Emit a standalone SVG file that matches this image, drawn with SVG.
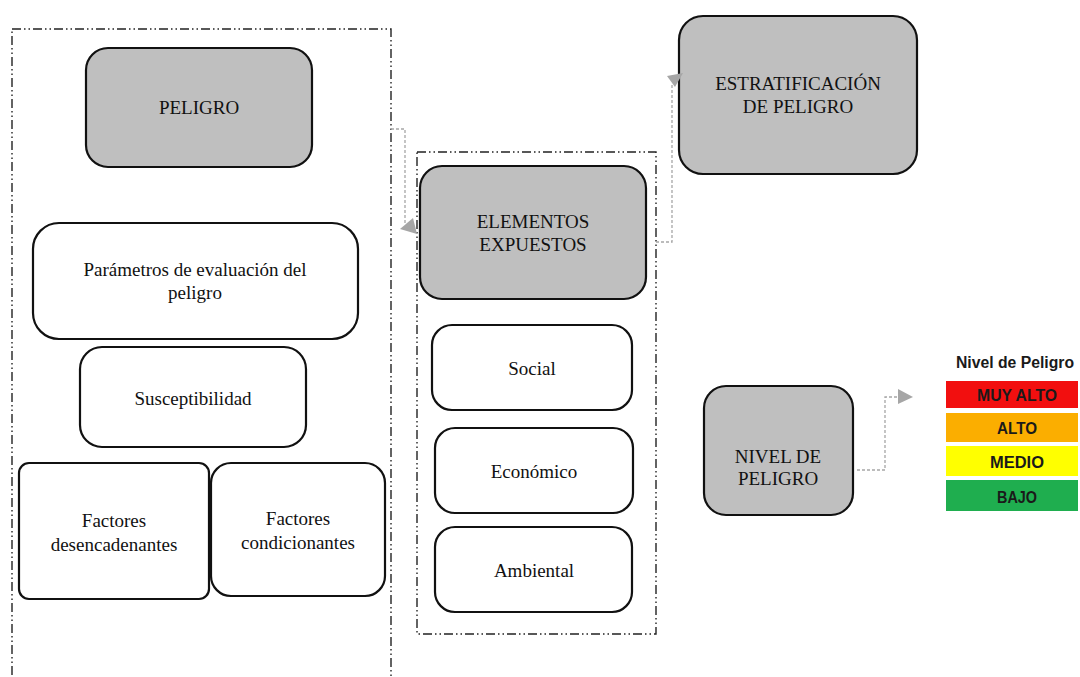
<svg xmlns="http://www.w3.org/2000/svg" width="1080" height="677" viewBox="0 0 1080 677">
<style>
.frame{fill:none;stroke:#222;stroke-width:1.4;stroke-dasharray:9 3 1.5 3 1.5 3}
.g{fill:#bfbfbf;stroke:#111;stroke-width:2.2}
.w{fill:#fff;stroke:#111;stroke-width:2.2}
.t{font-family:"Liberation Serif","Times New Roman",serif;font-size:19px;fill:#111;text-anchor:middle}
.c{fill:none;stroke:#a6a6a6;stroke-width:1.3;stroke-dasharray:3 2}
.ah{fill:#a6a6a6}
.lg{font-family:"Liberation Sans",Arial,sans-serif;font-weight:bold;text-anchor:middle;fill:#1a1a1a}
</style>
<rect width="1080" height="677" fill="#fff"/>
<g id="frames">
<rect class="frame" x="12" y="29" width="379" height="700"/>
<rect class="frame" x="417" y="152" width="239" height="482"/>
</g>
<g id="peligro"><rect class="g" x="86" y="48" width="226" height="119" rx="22"/><text class="t" x="199" y="114">PELIGRO</text></g>
<g id="parametros"><rect class="w" x="33" y="223" width="325" height="116" rx="26"/><text class="t" x="195" y="276">Parámetros de evaluación del</text><text class="t" x="195" y="299">peligro</text></g>
<g id="susceptibilidad"><rect class="w" x="80" y="347" width="226" height="100" rx="22"/><text class="t" x="193" y="405">Susceptibilidad</text></g>
<g id="desencadenantes"><rect class="w" x="19" y="463" width="190" height="136" rx="10"/><text class="t" x="114" y="527">Factores</text><text class="t" x="114" y="551">desencadenantes</text></g>
<g id="condicionantes"><rect class="w" x="211" y="463" width="174" height="133" rx="20"/><text class="t" x="298" y="525">Factores</text><text class="t" x="298" y="549">condicionantes</text></g>
<g id="elementos"><rect class="g" x="420" y="166" width="226" height="133" rx="22"/><text class="t" x="533" y="228">ELEMENTOS</text><text class="t" x="533" y="251">EXPUESTOS</text></g>
<g id="social"><rect class="w" x="432" y="325" width="200" height="85" rx="20"/><text class="t" x="532" y="375">Social</text></g>
<g id="economico"><rect class="w" x="435" y="428" width="198" height="85" rx="20"/><text class="t" x="534" y="478">Económico</text></g>
<g id="ambiental"><rect class="w" x="435" y="527" width="197" height="85" rx="20"/><text class="t" x="534" y="577">Ambiental</text></g>
<g id="estratificacion"><rect class="g" x="679" y="16" width="238" height="158" rx="24"/><text class="t" x="798" y="90">ESTRATIFICACIÓN</text><text class="t" x="798" y="113">DE PELIGRO</text></g>
<g id="nivel"><rect class="g" x="704" y="386" width="149" height="129" rx="22"/><text class="t" x="778" y="463">NIVEL DE</text><text class="t" x="778" y="485">PELIGRO</text></g>
<g id="legend">
<text class="lg" x="1015" y="368" font-size="16" textLength="118" lengthAdjust="spacingAndGlyphs">Nivel de Peligro</text>
<rect x="946" y="381" width="132" height="27" fill="#f20f0f"/>
<rect x="946" y="413" width="132" height="29" fill="#fbae00"/>
<rect x="946" y="446" width="132" height="30" fill="#ffff00"/>
<rect x="946" y="480" width="132" height="31" fill="#1fae4f"/>
<text class="lg" x="1017" y="401" font-size="17" fill="#3a0a00" textLength="80" lengthAdjust="spacingAndGlyphs">MUY ALTO</text>
<text class="lg" x="1017" y="434" font-size="17" textLength="40" lengthAdjust="spacingAndGlyphs">ALTO</text>
<text class="lg" x="1017" y="468" font-size="17" textLength="54" lengthAdjust="spacingAndGlyphs">MEDIO</text>
<text class="lg" x="1017" y="503" font-size="17" textLength="40" lengthAdjust="spacingAndGlyphs">BAJO</text>
</g>
<g id="connectors">
<path class="c" d="M391 129 H405 V224"/>
<polygon class="ah" points="417,234 400,229 413,218"/>
<path class="c" d="M656 242 H672 V84"/>
<polygon class="ah" points="683,73 667,76 675,87"/>
<path class="c" d="M857 470 H885 V397 H898"/>
<polygon class="ah" points="913,397 898,389 898,404"/>
</g>
</svg>
